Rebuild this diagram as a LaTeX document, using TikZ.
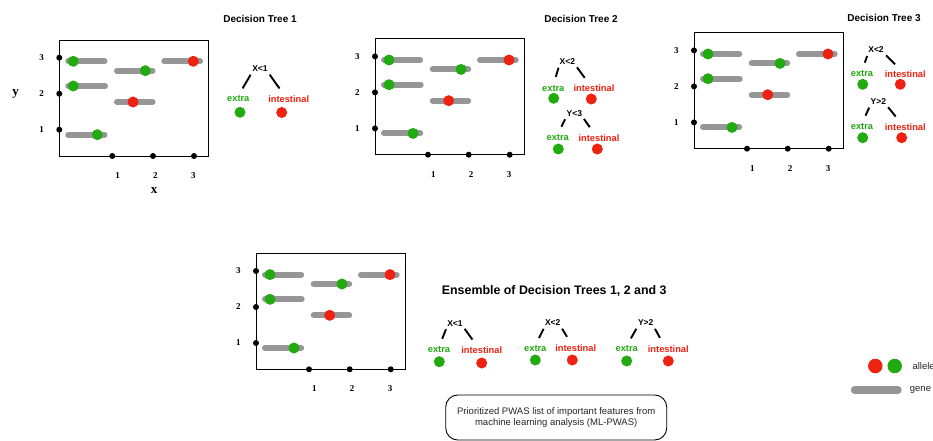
\documentclass[tikz,border=0pt]{standalone}
\usepackage{fontspec}
\setmainfont{Liberation Sans}
\newfontfamily\axfont{Liberation Serif}
\definecolor{agreen}{HTML}{22AA11}
\definecolor{ared}{HTML}{EE2211}
\definecolor{genegray}{HTML}{969696}
\tikzset{
  gdot/.style={circle, fill=agreen, inner sep=0pt, minimum size=11pt},
  rdot/.style={circle, fill=ared, inner sep=0pt, minimum size=11pt},
  axdot/.style={circle, fill=black, inner sep=0pt, minimum size=6pt},
  gene/.style={line width=6pt, genegray, line cap=round},
  axlab/.style={font=\axfont\bfseries\fontsize{9}{10}\selectfont, inner sep=0pt},
  axname/.style={font=\axfont\bfseries\fontsize{13}{14}\selectfont, inner sep=0pt},
  ttl/.style={font=\bfseries\fontsize{10}{12}\selectfont},
  extralab/.style={text=agreen, font=\bfseries\fontsize{9.3}{11}\selectfont, inner sep=0pt},
  intlab/.style={text=ared, font=\bfseries\fontsize{9.3}{11}\selectfont, inner sep=0pt},
  rootlab/.style={font=\bfseries\fontsize{8.5}{10}\selectfont, inner sep=0pt},
  branch/.style={line width=1.9pt, shorten <=3pt, shorten >=8.5pt},
  frame/.style={draw=black, line width=0.9pt},
}
\newcommand\plotpanel[3]{%
\begin{scope}[shift={(#1,#2)}, name prefix=#3-]
  \draw[frame] (59.3,40) rectangle (208.7,156);
  \node[axdot] (ya3) at (59.3,57.7) {};
  \node[axdot] (ya2) at (59.3,93.7) {};
  \node[axdot] (ya1) at (59.3,129.7) {};
  \node[axlab] (yl3) at (41.7,57.7) {3};
  \node[axlab] (yl2) at (41.7,93.7) {2};
  \node[axlab] (yl1) at (41.7,129.7) {1};
  \node[axdot] (xa1) at (112.3,156) {};
  \node[axdot] (xa2) at (153,156) {};
  \node[axdot] (xa3) at (194,156) {};
  \node[axlab] (xl1) at (117.7,175.7) {1};
  \node[axlab] (xl2) at (155.3,175.7) {2};
  \node[axlab] (xl3) at (193.3,175.7) {3};
  \draw[gene] (68.3,61.3) -- (104.5,61.3);
  \draw[gene] (117,70.7) -- (152.5,70.7);
  \draw[gene] (164.3,61.3) -- (200,61.3);
  \draw[gene] (68.3,86) -- (105,86);
  \draw[gene] (117,102) -- (152.5,102);
  \draw[gene] (68.3,134.7) -- (104.5,134.7);
  \node[gdot] (d1) at (73.3,61.3) {};
  \node[gdot] (d2) at (145.3,70.7) {};
  \node[rdot] (d3) at (193.3,61.3) {};
  \node[gdot] (d4) at (73.3,86) {};
  \node[rdot] (d5) at (133,102) {};
  \node[gdot] (d6) at (97.3,134.7) {};
\end{scope}}
\begin{document}
\begin{tikzpicture}[x=1pt,y=-1pt]
\clip (0,0) rectangle (933,441);
\fill[white] (0,0) rectangle (933,441);

% plot panels
\plotpanel{0}{0}{p1}
\plotpanel{315.7}{-1.3}{p2}
\plotpanel{634.7}{-7.3}{p3}
\plotpanel{196.7}{213.3}{p4}
\node[axname] (yname) at (15.7,94) {y};
\node[axname] (xname) at (154,190.7) {x};

% titles
\node[ttl] (title1) at (260,19) {Decision Tree 1};
\node[ttl] (title2) at (581,19) {Decision Tree 2};
\node[ttl] (title3) at (884,18) {Decision Tree 3};
\node[font=\bfseries\fontsize{12.4}{14}\selectfont] (ens) at (554.2,290.7) {Ensemble of Decision Trees 1, 2 and 3};

% tree 1
\node[rootlab] (t1) at (260,69) {X<1};
\node[extralab] (t1e) at (238.3,99) {extra};
\node[intlab] (t1i) at (288.7,99) {intestinal};
\node[gdot] (t1g) at (240,112.3) {};
\node[rdot] (t1r) at (281.7,112.5) {};
\draw[branch] (t1.south west) -- (t1e.north);
\draw[branch] (t1.south east) -- (t1i.140);

% tree 2a
\node[rootlab] (t2) at (567.3,61.7) {X<2};
\node[extralab] (t2e) at (553.3,88.3) {extra};
\node[intlab] (t2i) at (594,88.3) {intestinal};
\node[gdot] (t2g) at (553.7,98.3) {};
\node[rdot] (t2r) at (591.3,99) {};
\draw[branch] (t2.south west) -- (t2e.north);
\draw[branch] (t2.south east) -- (t2i.140);

% tree 2b
\node[rootlab] (t2b) at (574.3,113.3) {Y<3};
\node[extralab] (t2be) at (557.7,137.7) {extra};
\node[intlab] (t2bi) at (599,137.7) {intestinal};
\node[gdot] (t2bg) at (558.3,149) {};
\node[rdot] (t2br) at (597.3,149) {};
\draw[branch] (t2b.south west) -- (t2be.north);
\draw[branch] (t2b.south east) -- (t2bi.140);

% tree 3a
\node[rootlab] (t3) at (876,50) {X<2};
\node[extralab] (t3e) at (862,74) {extra};
\node[intlab] (t3i) at (905.3,74) {intestinal};
\node[gdot] (t3g) at (862.7,84.3) {};
\node[rdot] (t3r) at (900.3,84.3) {};
\draw[branch] (t3.south west) -- (t3e.north);
\draw[branch] (t3.south east) -- (t3i.140);

% tree 3b
\node[rootlab] (t3b) at (878.3,101.7) {Y>2};
\node[extralab] (t3be) at (862,126.7) {extra};
\node[intlab] (t3bi) at (905.3,126.7) {intestinal};
\node[gdot] (t3bg) at (862.7,137.7) {};
\node[rdot] (t3br) at (901.7,137.7) {};
\draw[branch] (t3b.south west) -- (t3be.north);
\draw[branch] (t3b.south east) -- (t3bi.140);

% ensemble trees
\node[rootlab] (e1) at (455,323.3) {X<1};
\node[extralab] (e1e) at (439,350) {extra};
\node[intlab] (e1i) at (481.7,350) {intestinal};
\node[gdot] (e1g) at (439.3,361.7) {};
\node[rdot] (e1r) at (481.7,363) {};
\draw[branch] (e1.south west) -- (e1e.north);
\draw[branch] (e1.south east) -- (e1i.140);

\node[rootlab] (e2) at (552.7,323) {X<2};
\node[extralab] (e2e) at (535.3,349) {extra};
\node[intlab] (e2i) at (575.7,347.7) {intestinal};
\node[gdot] (e2g) at (535.3,360) {};
\node[rdot] (e2r) at (572.3,360) {};
\draw[branch] (e2.south west) -- (e2e.north);
\draw[branch] (e2.south east) -- (e2i.140);

\node[rootlab] (e3) at (645.7,323) {Y>2};
\node[extralab] (e3e) at (626.7,349) {extra};
\node[intlab] (e3i) at (668.3,349) {intestinal};
\node[gdot] (e3g) at (626.7,361) {};
\node[rdot] (e3r) at (668.3,361) {};
\draw[branch] (e3.south west) -- (e3e.north);
\draw[branch] (e3.south east) -- (e3i.140);

% result box
\node[draw=black, line width=0.9pt, rounded corners=12pt, minimum width=221pt, minimum height=45pt,
      align=center, font=\fontsize{9.5}{11.7}\selectfont, text=black!85] (plist) at (556.2,417.5)
  {Prioritized PWAS list of important features from\\machine learning analysis (ML-PWAS)};

% legend
\node[circle, fill=ared, inner sep=0pt, minimum size=14.5pt] (lr) at (875.3,366) {};
\node[circle, fill=agreen, inner sep=0pt, minimum size=14.5pt] (lg) at (894.7,366) {};
\node[anchor=west, inner sep=0pt, font=\fontsize{9.5}{11}\selectfont, text=black!85] (lallele) at (912.3,366.5) {allele};
\draw[line width=7.3pt, genegray, line cap=round] (854.4,390) -- (898,390);
\node[anchor=west, inner sep=0pt, font=\fontsize{9.5}{11}\selectfont, text=black!85] (lgene) at (909.7,390) {gene};
\end{tikzpicture}
\end{document}
